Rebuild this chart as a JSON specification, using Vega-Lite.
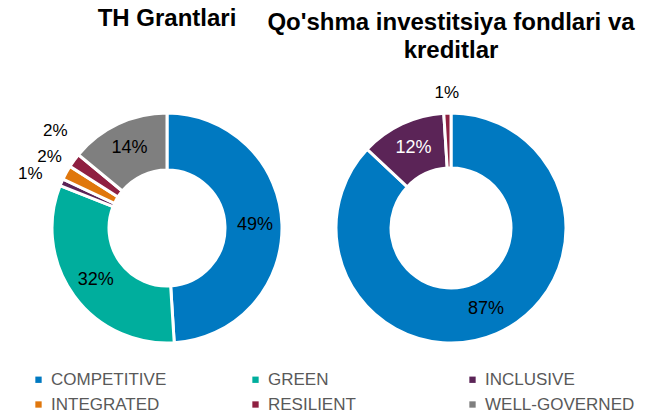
{
  "$schema": "https://vega.github.io/schema/vega-lite/v6.json",
  "padding": {"left": 17, "top": 7, "right": 5, "bottom": 0},
  "background": "white",
  "bounds": "flush",
  "data": {"values": [
    {"fund": "TH", "category": "COMPETITIVE", "share": 0.49},
    {"fund": "TH", "category": "GREEN", "share": 0.32},
    {"fund": "TH", "category": "INCLUSIVE", "share": 0.01},
    {"fund": "TH", "category": "INTEGRATED", "share": 0.02},
    {"fund": "TH", "category": "RESILIENT", "share": 0.02},
    {"fund": "TH", "category": "WELL-GOVERNED", "share": 0.14},
    {"fund": "QI", "category": "COMPETITIVE", "share": 0.87},
    {"fund": "QI", "category": "INCLUSIVE", "share": 0.12},
    {"fund": "QI", "category": "RESILIENT", "share": 0.01}
  ]},
  "spacing": 0,
  "hconcat": [
    {
      "width": 284, "height": 234,
      "title": {"text": ["TH Grantlari", " "]},
      "transform": [{"filter": "datum.fund === 'TH'"}],
      "encoding": {
        "theta": {"field": "share", "type": "quantitative", "stack": true},
        "order": {"field": "category", "type": "ordinal"}
      },
      "layer": [
        {"mark": {"type": "arc", "outerRadius": 115, "innerRadius": 58, "stroke": "white", "strokeWidth": 3},
         "encoding": {"color": {"field": "category", "type": "nominal"}}},
        {"mark": {"type": "text", "radius": 88, "fontSize": 18, "font": "Liberation Sans"},
         "encoding": {
           "detail": {"field": "category", "type": "nominal"},
           "text": {"condition": {"test": "datum.share >= 0.05", "field": "share", "format": ".0%"}, "value": ""},
           "color": {"condition": {"test": "datum.category === 'INCLUSIVE'", "value": "white"}, "value": "black"}
         }},
        {"mark": {"type": "text", "radius": 147, "thetaOffset": -0.033, "fontSize": 17, "font": "Liberation Sans"},
         "encoding": {
           "detail": {"field": "category", "type": "nominal"},
           "text": {"condition": {"test": "datum.share < 0.05 && datum.category === 'INCLUSIVE'", "field": "share", "format": ".0%"}, "value": ""},
           "color": {"value": "black"}
         }},
        {"mark": {"type": "text", "radius": 137, "thetaOffset": 0.038, "fontSize": 17, "font": "Liberation Sans"},
         "encoding": {
           "detail": {"field": "category", "type": "nominal"},
           "text": {"condition": {"test": "datum.share < 0.05 && datum.category === 'INTEGRATED'", "field": "share", "format": ".0%"}, "value": ""},
           "color": {"value": "black"}
         }},
        {"mark": {"type": "text", "radius": 148, "thetaOffset": 0.087, "fontSize": 17, "font": "Liberation Sans"},
         "encoding": {
           "detail": {"field": "category", "type": "nominal"},
           "text": {"condition": {"test": "datum.share < 0.05 && datum.category === 'RESILIENT'", "field": "share", "format": ".0%"}, "value": ""},
           "color": {"value": "black"}
         }}
      ]
    },
    {
      "width": 284, "height": 234,
      "title": {"text": ["Qo'shma investitsiya fondlari va", "kreditlar"]},
      "transform": [{"filter": "datum.fund === 'QI'"}],
      "encoding": {
        "theta": {"field": "share", "type": "quantitative", "stack": true},
        "order": {"field": "category", "type": "ordinal"}
      },
      "layer": [
        {"mark": {"type": "arc", "outerRadius": 115, "innerRadius": 60, "stroke": "white", "strokeWidth": 3},
         "encoding": {"color": {"field": "category", "type": "nominal"}}},
        {"mark": {"type": "text", "radius": 88, "fontSize": 18, "font": "Liberation Sans"},
         "encoding": {
           "detail": {"field": "category", "type": "nominal"},
           "text": {"condition": {"test": "datum.share >= 0.05", "field": "share", "format": ".0%"}, "value": ""},
           "color": {"condition": {"test": "datum.category === 'INCLUSIVE'", "value": "white"}, "value": "black"}
         }},
        {"mark": {"type": "text", "radius": 135, "fontSize": 17, "font": "Liberation Sans"},
         "encoding": {
           "detail": {"field": "category", "type": "nominal"},
           "text": {"condition": {"test": "datum.share < 0.05", "field": "share", "format": ".0%"}, "value": ""},
           "color": {"value": "black"}
         }}
      ]
    }
  ],
  "resolve": {"scale": {"color": "shared"}},
  "config": {
    "view": {"stroke": null},
    "title": {"font": "Liberation Sans", "fontSize": 24, "fontWeight": "bold", "color": "black", "anchor": "middle", "lineHeight": 28, "offset": 21},
    "range": {"category": ["#0079C1", "#00AE9D", "#5B2457", "#E0770D", "#8F2041", "#7F7F7F"]},
    "legend": {
      "orient": "bottom", "direction": "horizontal", "columns": 3, "gridAlign": "all", "offset": 6, "padding": 5,
      "title": null, "symbolType": "square", "symbolSize": 40, "symbolStrokeWidth": 0,
      "labelFont": "Liberation Sans", "labelFontSize": 17, "labelColor": "#595959",
      "columnPadding": 46, "rowPadding": 7, "labelLimit": 300
    }
  }
}
